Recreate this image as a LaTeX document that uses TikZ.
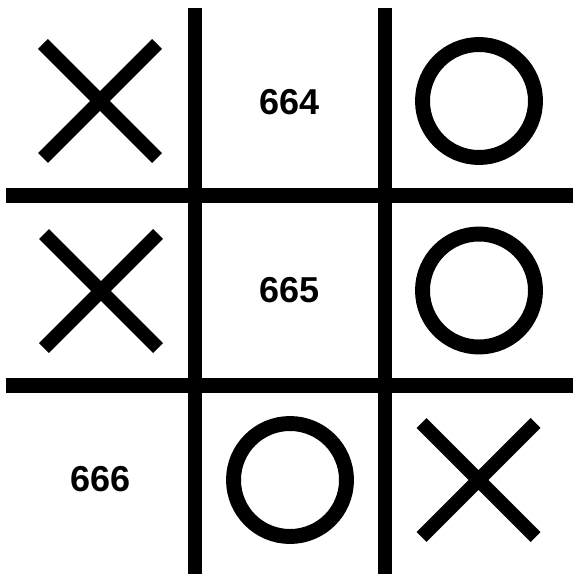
\documentclass[tikz,border=0pt]{standalone}
\usepackage{fontspec}
\setmainfont{Liberation Sans}
\usetikzlibrary{calc}

\tikzset{
  gridline/.style={line width=8.5pt},
  ring/.style={line width=8.5pt},
  cross/.style={line width=7.9pt},
  cellnum/.style={font=\fontsize{20.5}{24}\selectfont\bfseries,inner sep=0pt},
}

\begin{document}
\begin{tikzpicture}[x=0.02cm,y=-0.02cm]
  \useasboundingbox (0,0) rectangle (573,574);
  % board
  \draw[gridline] (195,8) -- (195,574) (385,8) -- (385,574);
  \draw[gridline] (6,195.5) -- (573,195.5) (6,385.5) -- (573,385.5);
  % cells
  \coordinate (c11) at (100,101);
  \coordinate (c13) at (479,101);
  \coordinate (c21) at (101,291);
  \coordinate (c23) at (479,290.5);
  \coordinate (c32) at (290,480);
  \coordinate (c33) at (478.5,480);
  \node[cellnum] (n664) at (289.5,102) {664};
  \node[cellnum] (n665) at (289.5,290.5) {665};
  \node[cellnum] (n666) at (100.5,479.5) {666};
  \foreach \c in {c11,c21,c33}
    \draw[cross] ($(\c)+(-57,-57)$) -- ($(\c)+(57,57)$)
                 ($(\c)+(-57,57)$) -- ($(\c)+(57,-57)$);
  \foreach \c in {c13,c23,c32}
    \draw[ring] (\c) circle[radius=1.13cm];
\end{tikzpicture}
\end{document}
